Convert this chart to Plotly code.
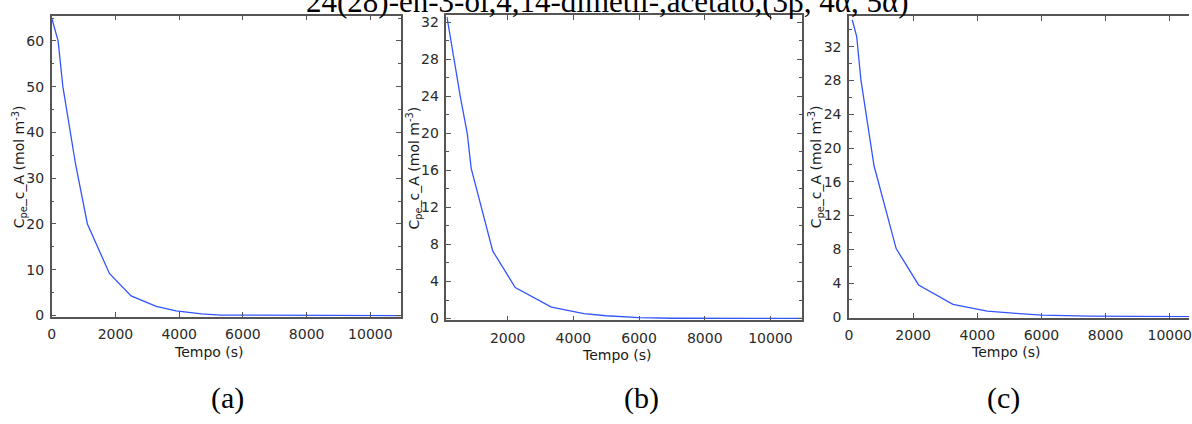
import plotly.graph_objects as go

# ---- data ----
title_text = "24(28)-en-3-ol,4,14-dimetil-,acetato,(3β, 4α, 5α)"
panel_labels = ["(a)", "(b)", "(c)"]
x_title = "Tempo (s)"
y_title = "C<sub>pe</sub>_c_A (mol m<sup>-3</sup>)"

t_a = [0, 200, 350, 750, 1120, 1810, 2490, 3280, 3900, 4700, 5300, 6500, 8000, 9500, 10950]
c_a = [65, 60, 50, 33, 20, 9.2, 4.3, 2.0, 1.0, 0.35, 0.1, 0.05, 0.02, 0.01, 0.005]

t_b = [150, 366, 555, 768, 890, 1546, 2230, 3330, 4320, 5000, 6000, 7000, 8500, 10000, 10960]
c_b = [32.6, 28, 24, 20, 16.2, 7.28, 3.34, 1.23, 0.53, 0.3, 0.1, 0.03, 0.015, 0.01, 0.005]

t_c = [100, 240, 370, 615, 780, 1470, 2170, 3240, 4310, 5200, 6000, 7500, 9000, 10600]
c_c = [35.2, 33.2, 28.1, 21.9, 17.9, 8.08, 3.77, 1.48, 0.66, 0.4, 0.2, 0.08, 0.03, 0.01]

x_ticks_a = [0, 2000, 4000, 6000, 8000, 10000]
x_ticks_b = [2000, 4000, 6000, 8000, 10000]
x_ticks_c = [0, 2000, 4000, 6000, 8000, 10000]

# ---- layout geometry (pixels) ----
W, H = 1192, 424
panels = [
    dict(t=t_a, c=c_a, xr=[0, 10950], yr=[-0.3, 65.5], x0=48, x1=399, y0=15, y1=322,
         xt=x_ticks_a, dt=10, mdt=5, mirror_y=True, xtx=206, xty=358, ytx=16, lab=225),
    dict(t=t_b, c=c_b, xr=[133, 10960], yr=[-0.2, 32.75], x0=445, x1=802.7, y0=14.7, y1=325.5,
         xt=x_ticks_b, dt=4, mdt=2, mirror_y=True, xtx=617, xty=361, ytx=412, lab=641),
    dict(t=t_c, c=c_c, xr=[0, 10600], yr=[-0.1, 35.6], x0=850, x1=1192, y0=15.7, y1=322.7,
         xt=x_ticks_c, dt=4, mdt=2, mirror_y=False, xtx=1008, xty=358, ytx=817, lab=1005),
]

def px(x):
    return x / W

def py(y):
    return 1 - y / H

fig = go.Figure()
tick_font = dict(family="DejaVu Sans", size=14, color="#2a2a2a")
annotations = []

for i, p in enumerate(panels, start=1):
    xa = "x" if i == 1 else f"x{i}"
    ya = "y" if i == 1 else f"y{i}"
    fig.add_trace(go.Scatter(x=p["t"], y=p["c"], mode="lines",
                             line=dict(color="#3355ff", width=1.3),
                             xaxis=xa, yaxis=ya, showlegend=False, hoverinfo="skip"))
    xkey = "xaxis" if i == 1 else f"xaxis{i}"
    ykey = "yaxis" if i == 1 else f"yaxis{i}"
    fig.update_layout(**{
        xkey: dict(domain=[px(p["x0"]), min(px(p["x1"]), 1.0)], range=p["xr"], anchor=ya,
                   tickvals=p["xt"], tickformat="d", ticks="inside", ticklen=5,
                   tickcolor="#555555", ticklabeloverflow="allow",
                   showline=True, linecolor="#555555", linewidth=1.5, mirror="ticks",
                   showgrid=False, zeroline=False, tickfont=tick_font,
                   ticklabelstandoff=4),
        ykey: dict(domain=[py(p["y1"]), py(p["y0"])], range=p["yr"], anchor=xa,
                   tick0=0, dtick=p["dt"], ticks="inside", ticklen=5, tickcolor="#555555",
                   minor=dict(dtick=p["mdt"], ticks="inside", ticklen=3, tickcolor="#555555"),
                   showline=True, linecolor="#555555", linewidth=1.5,
                   mirror="ticks" if p["mirror_y"] else False,
                   showgrid=False, zeroline=False, tickfont=tick_font,
                   ticklabelstandoff=3),
    })
    annotations.append(dict(text=x_title, x=px(p["xtx"]), y=py(p["xty"]), xref="paper",
                            yref="paper", showarrow=False, xanchor="center", yanchor="middle",
                            font=dict(family="DejaVu Sans", size=14, color="#1a1a1a")))
    annotations.append(dict(text=y_title, x=px(p["ytx"]), y=py((p["y0"] + p["y1"]) / 2),
                            xref="paper", yref="paper", showarrow=False, textangle=-90,
                            xanchor="center", yanchor="middle",
                            font=dict(family="DejaVu Sans", size=14, color="#1a1a1a")))
    annotations.append(dict(text=panel_labels[i - 1], x=px(p["lab"]), y=py(405),
                            xref="paper", yref="paper", showarrow=False,
                            xanchor="center", yanchor="middle",
                            font=dict(family="Liberation Serif", size=30, color="#000000")))

annotations.append(dict(text=title_text, x=px(607), y=py(0), xref="paper", yref="paper",
                        showarrow=False, xanchor="center", yanchor="middle",
                        font=dict(family="Liberation Serif", size=31, color="#000000")))

fig.update_layout(width=W, height=H, margin=dict(l=0, r=0, t=0, b=0),
                  paper_bgcolor="white", plot_bgcolor="white",
                  annotations=annotations)

fig.write_html("out.html")
